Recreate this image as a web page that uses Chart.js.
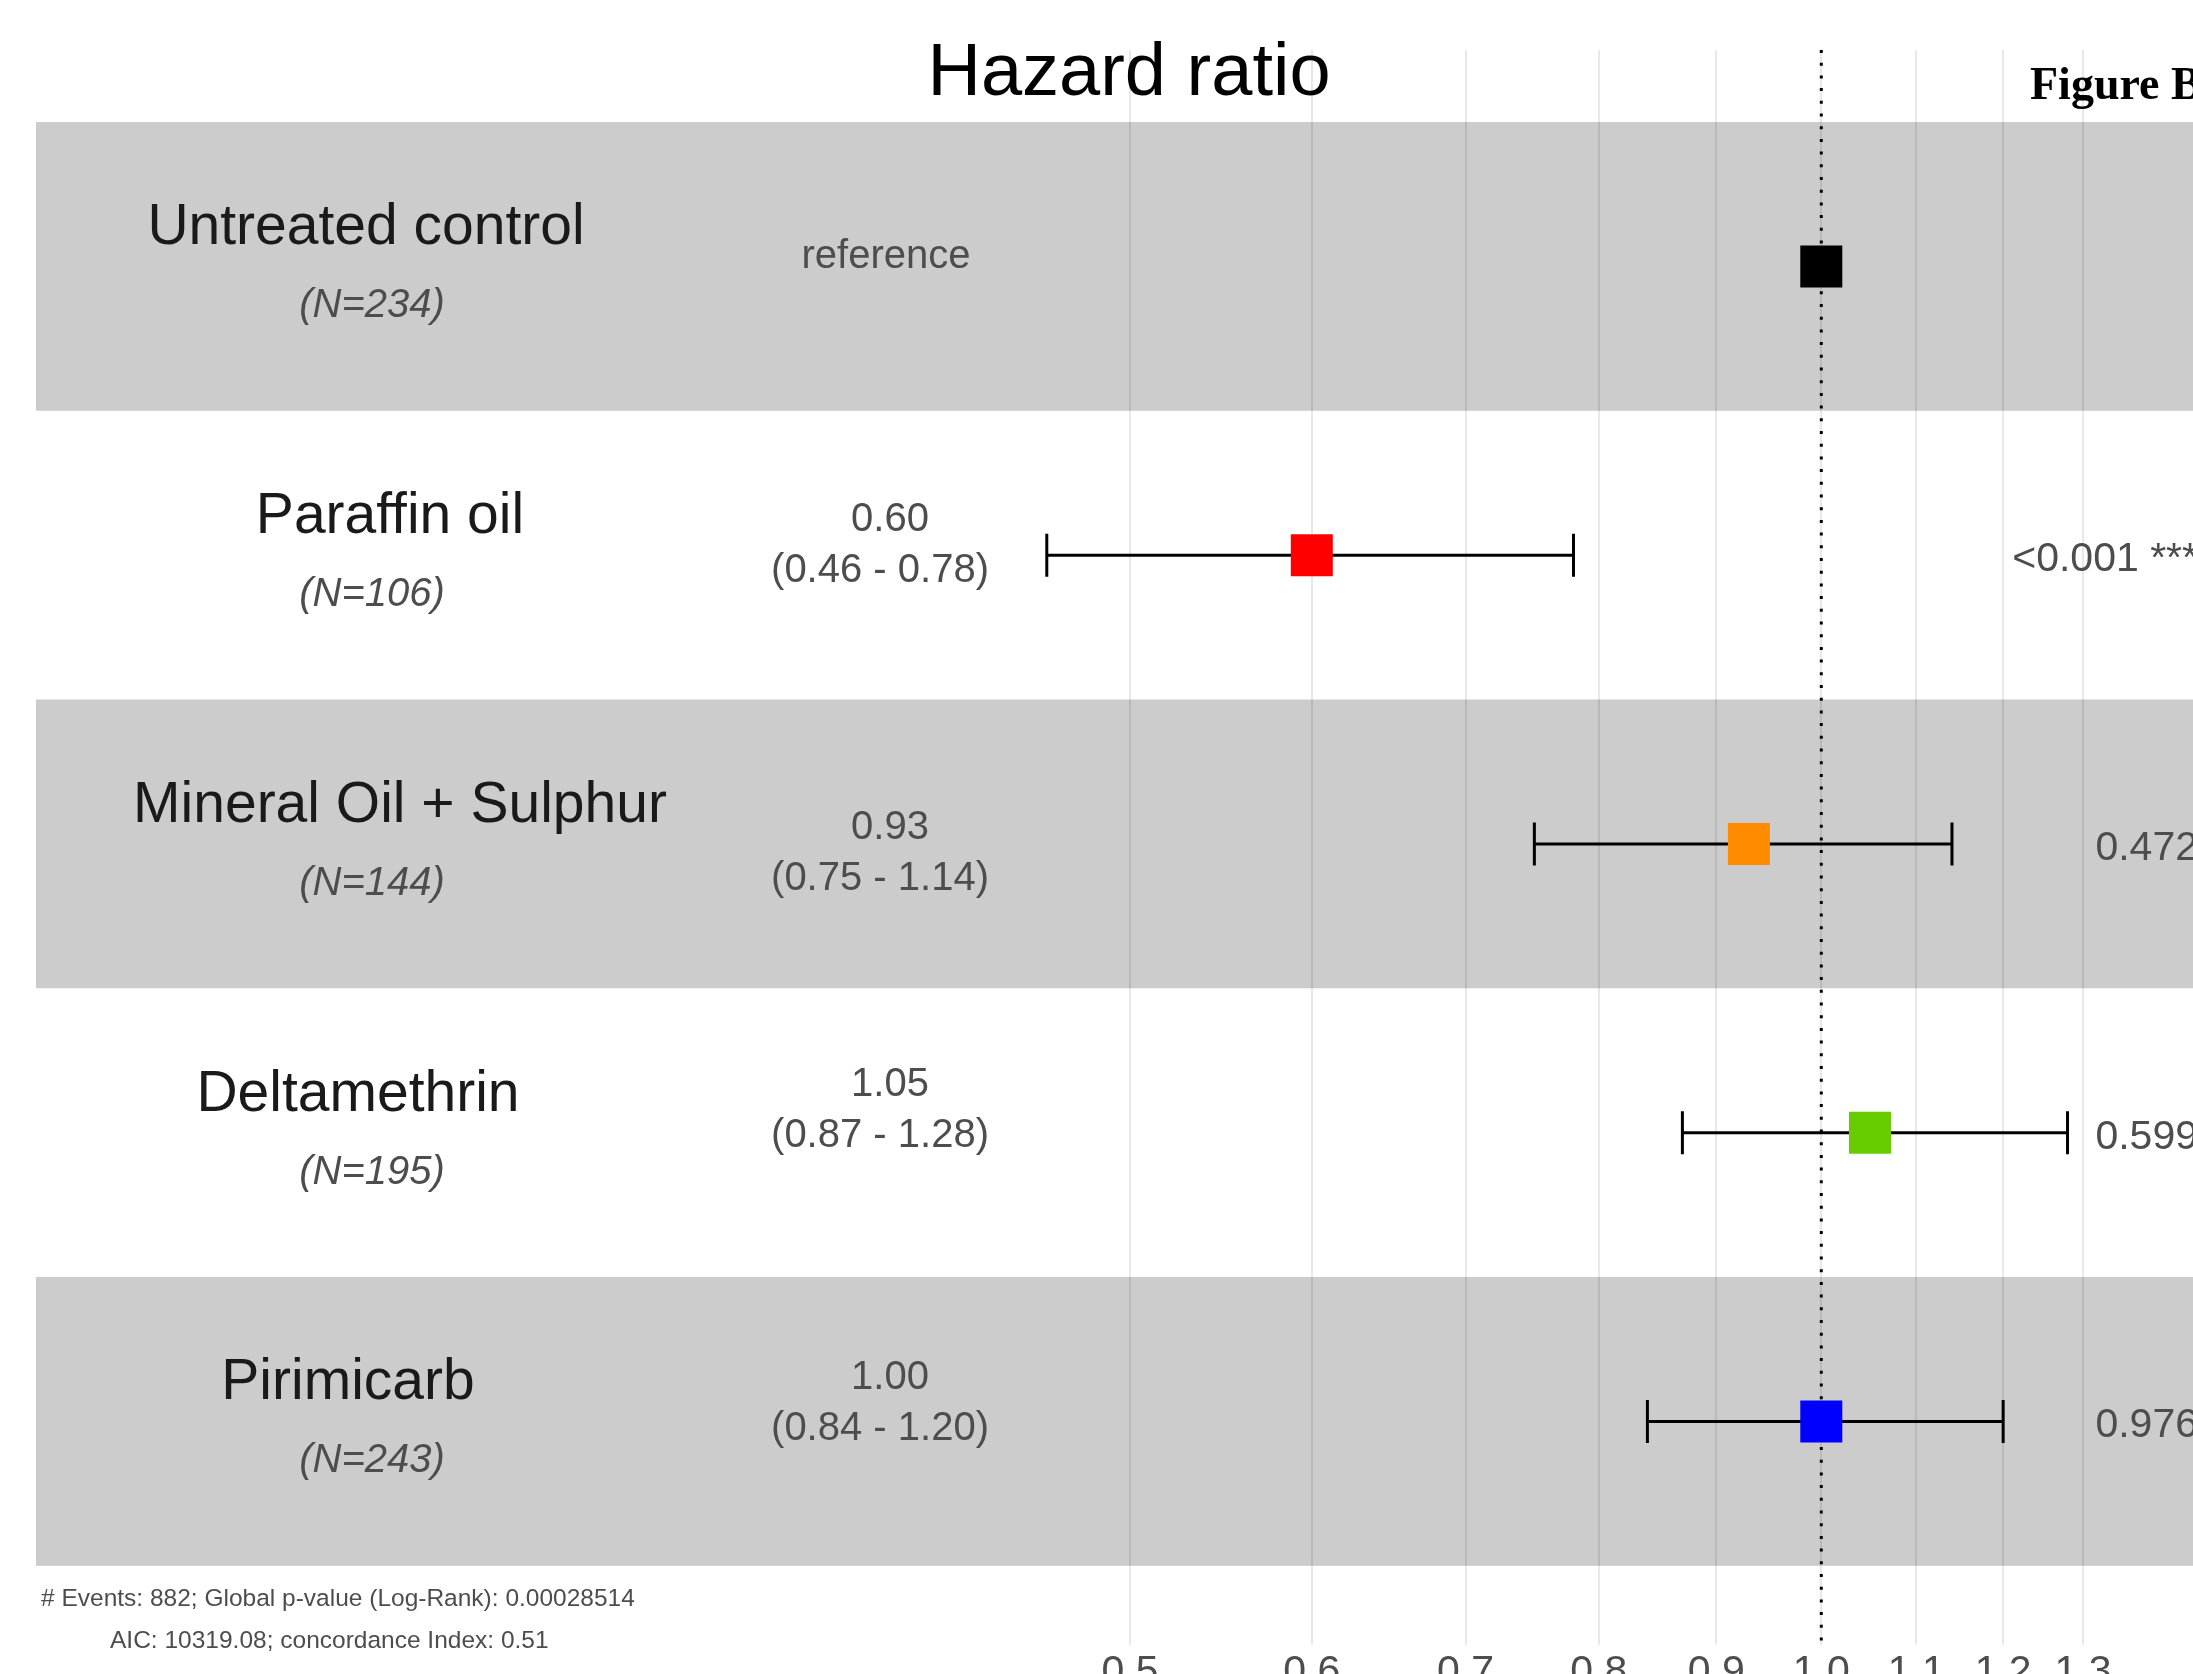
<!DOCTYPE html>
<html>
<head>
<meta charset="utf-8">
<title>Hazard ratio</title>
<script src="https://cdn.jsdelivr.net/npm/chart.js@4.4.0/dist/chart.umd.min.js"></script>
<style>
  html, body { margin: 0; padding: 0; background: #fff; overflow: hidden; }
  #frame { width: 2193px; height: 1674px; overflow: hidden; position: relative; }
  #forest { display: block; }
</style>
</head>
<body>
<div id="frame"><canvas id="forest" width="2400" height="1700"></canvas></div>
<script>
// Forest plot of the Cox model hazard ratios
const treatments = ['Untreated control', 'Paraffin oil', 'Mineral Oil + Sulphur', 'Deltamethrin', 'Pirimicarb'];
const groupSizes = [234, 106, 144, 195, 243];
const hazardRatios = [1.00, 0.60, 0.93, 1.05, 1.00];
const ciLower = [null, 0.46, 0.75, 0.87, 0.84];
const ciUpper = [null, 0.78, 1.14, 1.28, 1.20];
const pLabels = ['', '<0.001 ***', '0.472', '0.599', '0.976'];
const pointColors = ['#000000', '#FF0000', '#FF8C00', '#66CC00', '#0000FF'];
const xTicks = [0.5, 0.6, 0.7, 0.8, 0.9, 1.0, 1.1, 1.2, 1.3];
const footnotes = ['# Events: 882; Global p-value (Log-Rank): 0.00028514', 'AIC: 10319.08; concordance Index: 0.51'];

// layout
const SANS = '"Liberation Sans", Arial, sans-serif';
const pxPerLn = 997.4, refPx = 1821.3;   // log axis: pixels per ln unit, pixel of HR = 1
const plotLeft = 36, plotRight = 2360, plotTop = 50, plotBottom = 1637;
const rowTop = 122, rowH = 288.6;
const nameX = [366, 390, 400, 358, 348];
const hrShift = [2, -24, -5, -37, -32];

const xMin = Math.exp((plotLeft - refPx) / pxPerLn);
const xMax = Math.exp((plotRight - refPx) / pxPerLn);
const yMin = -(rowTop + rowH / 2 - plotTop) / rowH;
const yMax = yMin + (plotBottom - plotTop) / rowH;

const bandsPlugin = {
  id: 'bands',
  beforeDraw(chart) {
    const { ctx, scales: { y } } = chart;
    ctx.save();
    ctx.fillStyle = '#CCCCCC';
    treatments.forEach((t, i) => {
      if (i % 2) return;
      const top = y.getPixelForValue(i - 0.5);
      const bot = y.getPixelForValue(i + 0.5);
      ctx.fillRect(plotLeft, top, chart.width - plotLeft, bot - top);
    });
    ctx.restore();
  }
};

const errorBarsPlugin = {
  id: 'errorBars',
  beforeDatasetsDraw(chart) {
    const { ctx, chartArea, scales: { x, y } } = chart;
    ctx.save();
    // dotted reference line at HR = 1
    const x1 = x.getPixelForValue(1);
    ctx.strokeStyle = '#000';
    ctx.lineWidth = 3;
    ctx.setLineDash([3, 9.7]);
    ctx.beginPath();
    ctx.moveTo(x1, chartArea.top);
    ctx.lineTo(x1, chartArea.bottom + 7);
    ctx.stroke();
    ctx.setLineDash([]);
    // confidence intervals
    ctx.lineWidth = 3;
    treatments.forEach((t, i) => {
      if (ciLower[i] == null) return;
      const yc = y.getPixelForValue(i);
      const xl = x.getPixelForValue(ciLower[i]);
      const xr = x.getPixelForValue(ciUpper[i]);
      ctx.beginPath();
      ctx.moveTo(xl, yc); ctx.lineTo(xr, yc);
      ctx.moveTo(xl, yc - 21.5); ctx.lineTo(xl, yc + 21.5);
      ctx.moveTo(xr, yc - 21.5); ctx.lineTo(xr, yc + 21.5);
      ctx.stroke();
    });
    ctx.restore();
  }
};

const labelsPlugin = {
  id: 'labels',
  afterDraw(chart) {
    const { ctx, scales: { y } } = chart;
    ctx.save();
    ctx.textBaseline = 'alphabetic';
    ctx.textAlign = 'center';
    ctx.fillStyle = '#000';
    ctx.font = `74px ${SANS}`;
    ctx.fillText('Hazard ratio', 1129, 95);

    treatments.forEach((name, i) => {
      const yc = y.getPixelForValue(i);
      ctx.textAlign = 'center';
      ctx.fillStyle = '#1A1A1A';
      ctx.font = `57px ${SANS}`;
      ctx.fillText(name, nameX[i], yc - 22);
      ctx.fillStyle = '#4D4D4D';
      ctx.font = `italic 40px ${SANS}`;
      ctx.fillText(`(N=${groupSizes[i]})`, 372, yc + 51);
      ctx.font = `40px ${SANS}`;
      if (ciLower[i] == null) {
        ctx.fillText('reference', 886, yc + hrShift[i]);
      } else {
        ctx.fillText(hazardRatios[i].toFixed(2), 890, yc + hrShift[i]);
        ctx.fillText(`(${ciLower[i].toFixed(2)} - ${ciUpper[i].toFixed(2)})`, 880, yc + hrShift[i] + 51);
      }
      if (pLabels[i]) {
        ctx.textAlign = 'right';
        ctx.font = `41px ${SANS}`;
        ctx.fillText(pLabels[i], 2198, yc + 16);
      }
    });

    ctx.textAlign = 'left';
    ctx.fillStyle = '#4D4D4D';
    ctx.font = `24.5px ${SANS}`;
    ctx.fillText(footnotes[0], 41, 1606);
    ctx.fillText(footnotes[1], 110, 1648);

    ctx.fillStyle = '#000';
    ctx.font = 'bold 46px "Liberation Serif", "Times New Roman", serif';
    ctx.fillText('Figure B', 2030, 99);
    ctx.restore();
  }
};

new Chart(document.getElementById('forest'), {
  type: 'scatter',
  data: {
    datasets: [{
      data: treatments.map((t, i) => ({ x: hazardRatios[i], y: i })),
      pointStyle: 'rect',
      pointRadius: 29.7,
      pointHoverRadius: 29.7,
      pointBackgroundColor: pointColors,
      pointBorderWidth: 0,
      borderWidth: 0
    }]
  },
  options: {
    responsive: false,
    animation: false,
    events: [],
    layout: { padding: { left: plotLeft, right: 2400 - plotRight, top: plotTop, bottom: 0 } },
    plugins: { legend: { display: false }, tooltip: { enabled: false } },
    scales: {
      x: {
        type: 'logarithmic',
        position: 'bottom',
        bounds: 'data',
        min: xMin,
        max: xMax,
        afterBuildTicks: s => { s.ticks = xTicks.map(v => ({ value: v })); },
        ticks: {
          callback: v => Number(v).toFixed(1),
          color: '#4D4D4D',
          font: { family: SANS, size: 41 },
          padding: 3,
          maxRotation: 0,
          autoSkip: false
        },
        grid: { color: 'rgba(0,0,0,0.09)', lineWidth: 2, tickLength: 7 },
        border: { display: false }
      },
      y: { type: 'linear', display: false, reverse: true, min: yMin, max: yMax }
    }
  },
  plugins: [bandsPlugin, errorBarsPlugin, labelsPlugin]
});
</script>
</body>
</html>
